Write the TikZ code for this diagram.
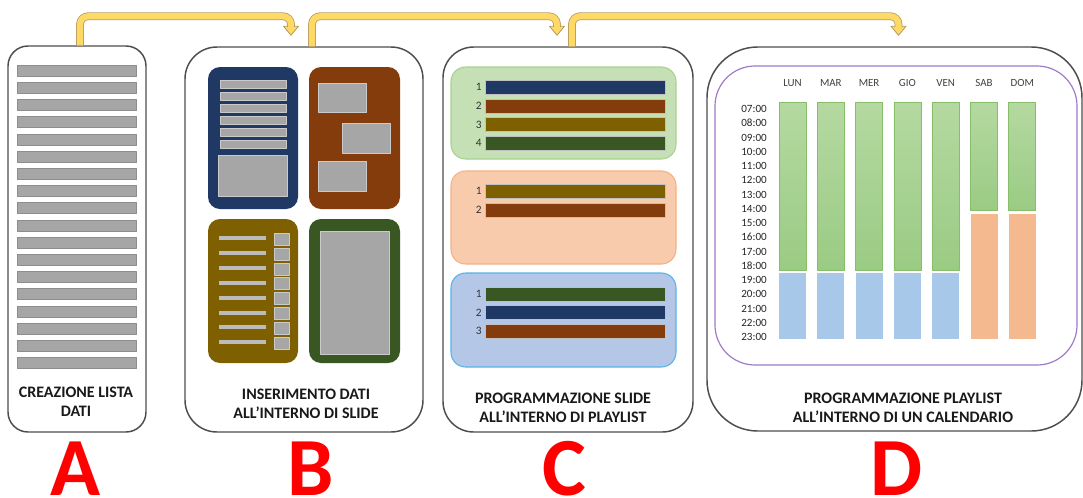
\documentclass[tikz,border=0pt]{standalone}
\usepackage{fontspec}
\setmainfont{Carlito}
\usetikzlibrary{calc,fit}

\definecolor{slideblue}{HTML}{1F3864}
\definecolor{slidebrown}{HTML}{843C0C}
\definecolor{slideolive}{HTML}{7F6000}
\definecolor{slidegreen}{HTML}{385723}
\definecolor{datagrey}{HTML}{A6A6A6}
\definecolor{flowfill}{HTML}{FFD966}
\definecolor{flowline}{HTML}{B39B5E}
\definecolor{panelline}{HTML}{4D4D4D}
\definecolor{plgreen}{HTML}{C5E0B4}
\definecolor{plgreenline}{HTML}{A9D18E}
\definecolor{plorange}{HTML}{F8CBAD}
\definecolor{plorangeline}{HTML}{F4B183}
\definecolor{plblue}{HTML}{B4C7E7}
\definecolor{plblueline}{HTML}{56B4E9}
\definecolor{calpurple}{HTML}{9E7CC8}
\definecolor{calgreentop}{HTML}{B5D9A1}
\definecolor{calgreenbot}{HTML}{9ACB84}
\definecolor{calgreenline}{HTML}{86BE6A}
\definecolor{calblue}{HTML}{A7C8E8}
\definecolor{calorange}{HTML}{F4B98F}

\tikzset{
  panel/.style={draw=panelline,line width=1.1pt,fill=white,inner sep=0pt},
  databar/.style={fill=datagrey,draw=datagrey!85!black,line width=0.4pt},
  slidebar/.style={fill=datagrey,draw=datagrey!60!white,line width=0.4pt},
  plbox/.style={line width=0.8pt,rounded corners=11pt},
  plbar/.style={draw=datagrey!70!white,line width=0.5pt},
  plnum/.style={anchor=east,inner sep=0pt,font=\fontsize{8.5}{10}\selectfont,text=black!80},
  calgreenbar/.style={top color=calgreentop,bottom color=calgreenbot,draw=calgreenline,line width=0.5pt},
  caltext/.style={inner sep=0pt,font=\fontsize{8.2}{10}\selectfont,text=black!75},
  caltime/.style={anchor=east,inner sep=0pt,font=\fontsize{8.3}{10}\selectfont,text=black!85},
  paneltext/.style={align=center,inner sep=0pt,font=\fontsize{12}{14.25}\selectfont\bfseries,text=black!90},
  bigletter/.style={anchor=base,inner sep=0pt,text=red,font=\fontsize{62}{62}\selectfont\bfseries},
  flowarrow/.style={draw=flowline,double=flowfill,double distance=4.6pt,line width=0.6pt,rounded corners=6pt},
  flowhead/.style={draw=flowline,fill=flowfill,line width=0.6pt}
}

\begin{document}
\begin{tikzpicture}[x=0.75pt,y=-0.75pt,line join=round]
\useasboundingbox (0,0) rectangle (1083,497);

% pannelli
\node[panel,rounded corners=15pt,fit={(8,46) (146,432)}] (A) {};
\node[panel,rounded corners=24pt,fit={(185,47) (423,432)}] (B) {};
\node[panel,rounded corners=23pt,fit={(443,47) (693,432)}] (C) {};
\node[panel,rounded corners=38pt,fit={(707,47) (1082,431)}] (D) {};

% frecce
\foreach \from/\dx/\to/\ex in {A/3/B/-13,B/8/C/-11,C/4/D/4}{
  \draw[flowhead] ($(\to.north)+({\ex-7.5},-20)$) -- ($(\to.north)+({\ex+7.5},-20)$) -- ($(\to.north)+(\ex,-11)$) -- cycle;
  \draw[flowarrow] ($(\from.north)+(\dx,0)$) |- ($(\to.north)+(\ex,-30)$) -- ($(\to.north)+(\ex,-19.5)$);
}

% A: lista dati
\foreach \i in {0,...,17}
  \draw[databar] (17,{65+17.2*\i}) rectangle (136,{76+17.2*\i});
\node[paneltext] (labA) at (76,401.5) {CREAZIONE LISTA\\DATI};

% B: slide
\fill[slideblue,rounded corners=9pt] (208,67) rectangle (298,209);
\foreach \i in {0,...,5}
  \draw[slidebar] (220,{80+12*\i}) rectangle (286,{88+12*\i});
\draw[slidebar] (218,155) rectangle (287,196);
\fill[slidebrown,rounded corners=9pt] (309,67) rectangle (400,209);
\draw[slidebar] (318,83) rectangle (366,112);
\draw[slidebar] (342,123) rectangle (390,153);
\draw[slidebar] (318,161) rectangle (366,191);
\fill[slideolive,rounded corners=9pt] (208,219) rectangle (298,363);
\foreach \i in {0,...,7}{
  \draw[line width=3pt,color=datagrey!75!white] (219,{238+14.9*\i}) -- (266,{238+14.9*\i});
  \draw[slidebar] (274,{233+14.9*\i}) rectangle (289,{245+14.9*\i});
}
\fill[slidegreen,rounded corners=9pt] (309,219) rectangle (400,363);
\draw[slidebar] (320,231) rectangle (389,354);
\node[paneltext] (labB) at (306,403.5) {INSERIMENTO DATI\\ALL’INTERNO DI SLIDE};

% C: playlist
\draw[plbox,fill=plgreen,draw=plgreenline] (451,67) rectangle (676,159);
\foreach \n/\y/\c in {1/80/slideblue,2/99/slidebrown,3/117.5/slideolive,4/136/slidegreen}{
  \draw[plbar,fill=\c] (485,\y) rectangle (665,\y+14);
  \node[plnum] (pa\n) at (482,\y+7) {\n};
}
\draw[plbox,fill=plorange,draw=plorangeline] (451,171) rectangle (676,264);
\foreach \n/\y/\c in {1/184/slideolive,2/203/slidebrown}{
  \draw[plbar,fill=\c] (485,\y) rectangle (665,\y+14);
  \node[plnum] (pb\n) at (482,\y+7) {\n};
}
\draw[plbox,fill=plblue,draw=plblueline] (451,273) rectangle (676,367);
\foreach \n/\y/\c in {1/287/slidegreen,2/305.5/slideblue,3/324/slidebrown}{
  \draw[plbar,fill=\c] (485,\y) rectangle (665,\y+14);
  \node[plnum] (pc\n) at (482,\y+7) {\n};
}
\node[paneltext] (labC) at (563,407.5) {PROGRAMMAZIONE SLIDE\\ALL’INTERNO DI PLAYLIST};

% D: calendario
\draw[calpurple,line width=0.9pt,rounded corners=30pt] (715,66) rectangle (1077,365);
\foreach \d [count=\i from 0] in {LUN,MAR,MER,GIO,VEN,SAB,DOM}
  \node[caltext] (day\i) at ({792.5+38.3*\i},83) {\d};
\foreach \h [count=\i from 0] in {07,08,09,10,11,12,13,14,15,16,17,18,19,20,21,22,23}
  \node[caltime] (ora\i) at (767,{109+14.25*\i}) {\h:00};
\foreach \i in {0,...,4}{
  \draw[calgreenbar] ({779+38.3*\i},102) rectangle ({806+38.3*\i},270);
  \fill[calblue] ({779+38.3*\i},273) rectangle ({806+38.3*\i},339);
}
\foreach \i in {5,6}{
  \draw[calgreenbar] ({779+38.3*\i},102) rectangle ({806+38.3*\i},210);
  \fill[calorange] ({779+38.3*\i},214) rectangle ({806+38.3*\i},339);
}
\node[paneltext] (labD) at (903,407.5) {PROGRAMMAZIONE PLAYLIST\\ALL’INTERNO DI UN CALENDARIO};

% lettere
\node[bigletter] (letA) at (76,495) {A};
\node[bigletter] (letB) at (311,495) {B};
\node[bigletter] (letC) at (564,495) {C};
\node[bigletter] (letD) at (897,495) {D};
\end{tikzpicture}
\end{document}
